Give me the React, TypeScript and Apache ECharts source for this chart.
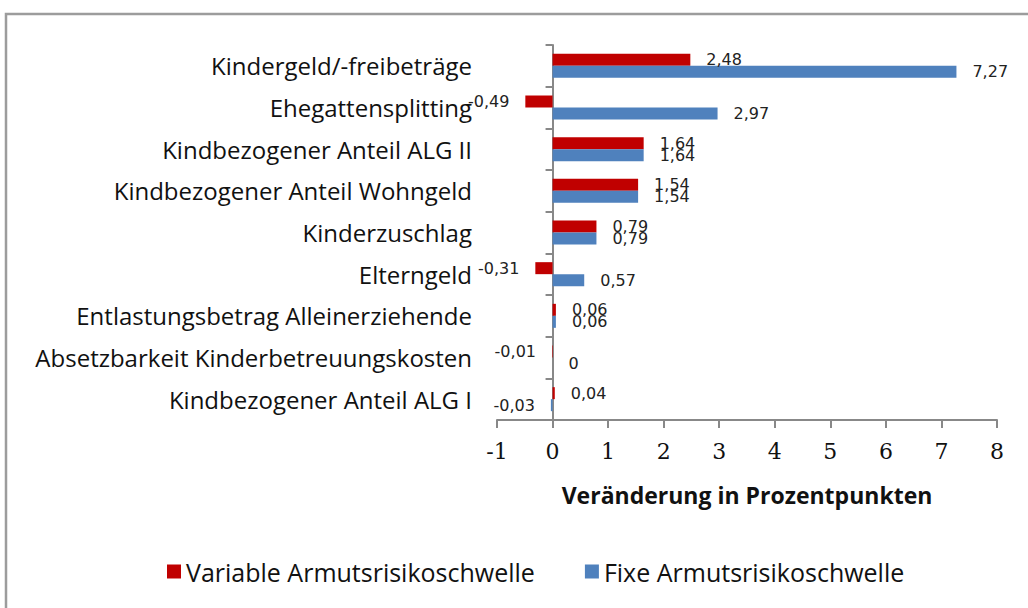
import React, { useEffect, useRef } from "react";
import * as echarts from "echarts";

const categories = [
  "Kindergeld/-freibeträge",
  "Ehegattensplitting",
  "Kindbezogener Anteil ALG II",
  "Kindbezogener Anteil Wohngeld",
  "Kinderzuschlag",
  "Elterngeld",
  "Entlastungsbetrag Alleinerziehende",
  "Absetzbarkeit Kinderbetreuungskosten",
  "Kindbezogener Anteil ALG I",
];
const variableValues = [2.48, -0.49, 1.64, 1.54, 0.79, -0.31, 0.06, -0.01, 0.04];
const fixeValues = [7.27, 2.97, 1.64, 1.54, 0.79, 0.57, 0.06, 0, -0.03];
const seriesNames = ["Variable Armutsrisikoschwelle", "Fixe Armutsrisikoschwelle"];
const xMin = -1;
const xMax = 8;
const xInterval = 1;
const xAxisTitle = "Veränderung in Prozentpunkten";

const fmt = (v: number) => (v === 0 ? "0" : v.toFixed(2).replace(".", ","));

const toItems = (vals: number[]) =>
  vals.map((v) => ({
    value: v,
    label: { position: v < 0 ? "left" : "right" },
  }));

export default function App() {
  const ref = useRef<HTMLDivElement>(null);
  useEffect(() => {
    if (!ref.current) return;
    const chart = echarts.init(ref.current, null, { renderer: "svg" });
    const labelStyle = {
      show: true,
      distance: 16,
      fontFamily: "DejaVu Sans",
      fontSize: 16,
      color: "#222",
      formatter: (p: any) => fmt(p.value),
    };
    chart.setOption({
      animation: false,
      backgroundColor: "#fff",
      graphic: [
        {
          type: "rect",
          shape: { x: 6, y: 14, width: 1100, height: 700 },
          style: { fill: "none", stroke: "#9c9c9c", lineWidth: 2.5 },
          silent: true,
        },
      ],
      legend: {
        left: 162,
        top: 554,
        itemWidth: 14,
        itemHeight: 14,
        itemGap: 50,
        icon: "rect",
        textStyle: { fontFamily: "Open Sans", fontSize: 25, color: "#111" },
        data: seriesNames,
      },
      grid: { left: 497, right: 31, top: 45, bottom: 188, containLabel: false },
      xAxis: {
        type: "value",
        min: xMin,
        max: xMax,
        interval: xInterval,
        splitLine: { show: false },
        axisLine: { show: true, lineStyle: { color: "#888", width: 2 } },
        axisTick: { show: true, length: 8, lineStyle: { color: "#888", width: 2 } },
        axisLabel: {
          margin: 20,
          fontFamily: "DejaVu Serif",
          fontSize: 22,
          color: "#111",
          formatter: (v: number) => String(v),
        },
        name: xAxisTitle,
        nameLocation: "middle",
        nameGap: 63,
        nameTextStyle: {
          fontFamily: "Open Sans",
          fontWeight: "bold",
          fontSize: 23,
          color: "#111",
        },
      },
      yAxis: {
        type: "category",
        inverse: true,
        data: categories,
        axisLine: { show: true, lineStyle: { color: "#888", width: 2 } },
        axisTick: { show: true, length: 7, lineStyle: { color: "#888", width: 2 } },
        axisLabel: {
          margin: 25,
          fontFamily: "Open Sans",
          fontSize: 24,
          color: "#111",
        },
      },
      series: [
        {
          name: seriesNames[0],
          type: "bar",
          data: toItems(variableValues),
          barWidth: 12,
          barGap: "0%",
          itemStyle: { color: "#C00000" },
          label: labelStyle,
        },
        {
          name: seriesNames[1],
          type: "bar",
          data: toItems(fixeValues),
          barWidth: 12,
          barGap: "0%",
          itemStyle: { color: "#4F81BD" },
          label: labelStyle,
        },
      ],
    });
    return () => chart.dispose();
  }, []);
  return (
    <div
      ref={ref}
      style={{ position: "fixed", left: 0, top: 0, width: 1028, height: 608 }}
    />
  );
}
